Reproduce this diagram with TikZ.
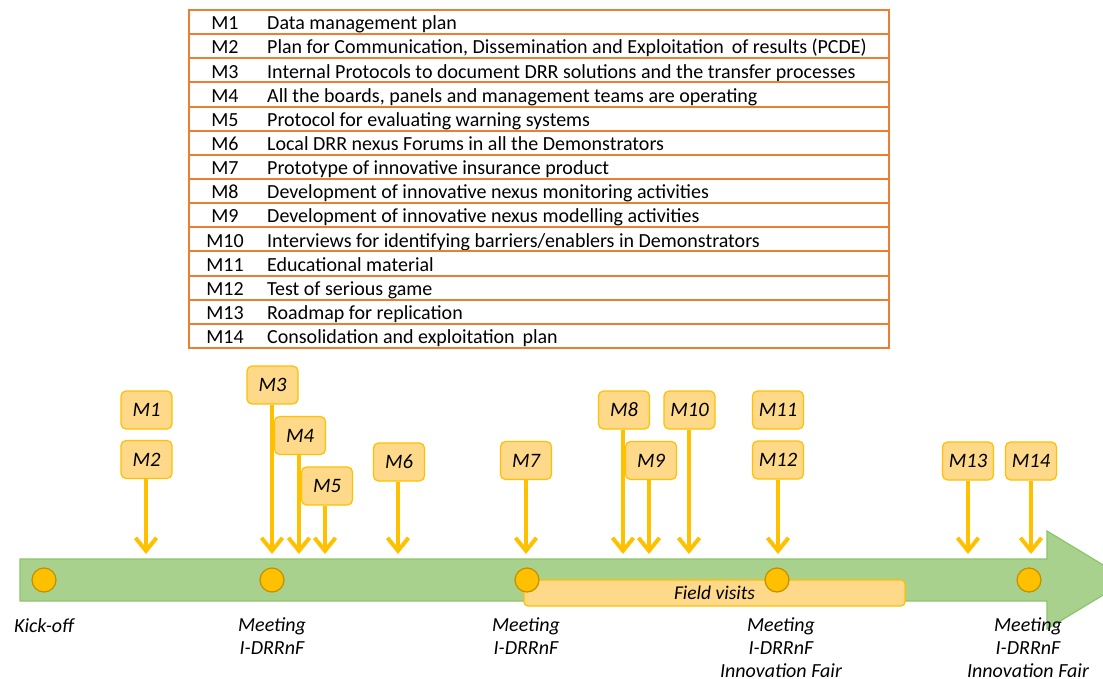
\documentclass[tikz,border=0pt]{standalone}
\usepackage{fontspec}
\setmainfont{Carlito}
\usetikzlibrary{arrows.meta}
\definecolor{tblorange}{HTML}{ED7D31}
\definecolor{msfill}{HTML}{FFD98A}
\definecolor{msborder}{HTML}{FFC000}
\definecolor{arrowyellow}{HTML}{FFC000}
\definecolor{barfill}{HTML}{A9D18E}
\definecolor{barborder}{HTML}{8CC46A}
\definecolor{dotfill}{HTML}{FFC000}
\definecolor{dotborder}{HTML}{C09000}
\tikzset{
  tabtxt/.style={font=\fontsize{20}{24}\selectfont, inner sep=0pt},
  msbox/.style={draw=msborder, fill=msfill, line width=1.2pt, rounded corners=5pt,
     minimum width=51pt, minimum height=38pt, inner sep=0pt,
     font=\fontsize{20.5}{24}\selectfont\itshape},
  msarrow/.style={draw=arrowyellow, line width=4pt,
     -{Straight Barb[length=13pt,width=21pt]}},
  dot/.style={circle, draw=dotborder, fill=dotfill, line width=1.2pt, minimum size=24pt, inner sep=0pt},
  evlabel/.style={font=\fontsize{20}{23}\selectfont\itshape, align=center, anchor=north, inner sep=0pt}
}
\begin{document}
\begin{tikzpicture}[x=1pt,y=-1pt]
\useasboundingbox (0,0) rectangle (1103,679);
\clip (0,0) rectangle (1103,679);
% table
\foreach \i/\txt [evaluate=\i as \yt using 10+(\i-1)*24.143,
                  evaluate=\i as \yb using 10+(\i-1)*24.143+19.8] in {
 1/{Data management plan},
 2/{Plan for Communication, Dissemination and Exploitation\, of results (PCDE)},
 3/{Internal Protocols to document DRR solutions and the transfer processes},
 4/{All the boards, panels and management teams are operating},
 5/{Protocol for evaluating warning systems},
 6/{Local DRR nexus Forums in all the Demonstrators},
 7/{Prototype of innovative insurance product},
 8/{Development of innovative nexus monitoring activities},
 9/{Development of innovative nexus modelling activities},
 10/{Interviews for identifying barriers/enablers in Demonstrators},
 11/{Educational material},
 12/{Test of serious game},
 13/{Roadmap for replication},
 14/{Consolidation and exploitation\, plan}}{
  \draw[tblorange, line width=2pt] (189,\yt) rectangle (889,\yt+24.143);
  \node[tabtxt, anchor=base] (tm\i) at (225,\yb) {M\i};
  \node[tabtxt, anchor=base west] (td\i) at (267,\yb) {\txt};
}
% timeline bar
\path[fill=barfill, draw=barborder, line width=1.2pt]
  (20,559) -- (1047,559) -- (1047,531) -- (1128,580) -- (1047,629) -- (1047,601) -- (20,601) -- cycle;
% field visits
\node[draw=msborder, fill=msfill, line width=1.2pt, rounded corners=4pt, minimum width=381pt,
      minimum height=26pt, inner sep=0pt, font=\fontsize{19.5}{22}\selectfont\itshape] (fv) at (714.5,593) {Field visits};
% dots
\node[dot] (d0) at (44,580) {};
\node[dot] (d1) at (272,580) {};
\node[dot] (d2) at (527,580) {};
\node[dot] (d3) at (777,580) {};
\node[dot] (d4) at (1029,580) {};
% event labels
\node[evlabel] (l0) at (44,618) {Kick-off};
\node[evlabel] (l1) at (272,617) {Meeting\\I-DRRnF};
\node[evlabel] (l2) at (526,617) {Meeting\\I-DRRnF};
\node[evlabel] (l3) at (781,617) {Meeting\\I-DRRnF\\Innovation Fair};
\node[evlabel] (l4) at (1028,617) {Meeting\\I-DRRnF\\Innovation Fair};
% milestone boxes
\node[msbox] (m1) at (146.5,410) {M1};
\node[msbox] (m2) at (146.5,459.5) {M2};
\node[msbox] (m3) at (272.5,385) {M3};
\node[msbox] (m4) at (300,435.5) {M4};
\node[msbox] (m5) at (327,486) {M5};
\node[msbox] (m6) at (399,462) {M6};
\node[msbox] (m7) at (526,460.5) {M7};
\node[msbox] (m8) at (624,410) {M8};
\node[msbox] (m9) at (651,460.5) {M9};
\node[msbox] (m10) at (689.5,410) {M10};
\node[msbox] (m11) at (778,410) {M11};
\node[msbox] (m12) at (778,460) {M12};
\node[msbox] (m13) at (968,461) {M13};
\node[msbox] (m14) at (1031,461) {M14};
% arrow end points
\coordinate (e2) at (146,554);
\coordinate (e3) at (272,554);
\coordinate (e4) at (299,554);
\coordinate (e5) at (325,554);
\coordinate (e6) at (398,554);
\coordinate (e7) at (526,554);
\coordinate (e8) at (623,554);
\coordinate (e9) at (649,554);
\coordinate (e10) at (689,554);
\coordinate (e12) at (778,554);
\coordinate (e13) at (968,554);
\coordinate (e14) at (1031,554);
\draw[msarrow] (m2.south -| e2) -- (e2);
\draw[msarrow] (m3.south -| e3) -- (e3);
\draw[msarrow] (m4.south -| e4) -- (e4);
\draw[msarrow] (m5.south -| e5) -- (e5);
\draw[msarrow] (m6.south -| e6) -- (e6);
\draw[msarrow] (m7.south -| e7) -- (e7);
\draw[msarrow] (m8.south -| e8) -- (e8);
\draw[msarrow] (m9.south -| e9) -- (e9);
\draw[msarrow] (m10.south -| e10) -- (e10);
\draw[msarrow] (m12.south -| e12) -- (e12);
\draw[msarrow] (m13.south -| e13) -- (e13);
\draw[msarrow] (m14.south -| e14) -- (e14);
\end{tikzpicture}
\end{document}
